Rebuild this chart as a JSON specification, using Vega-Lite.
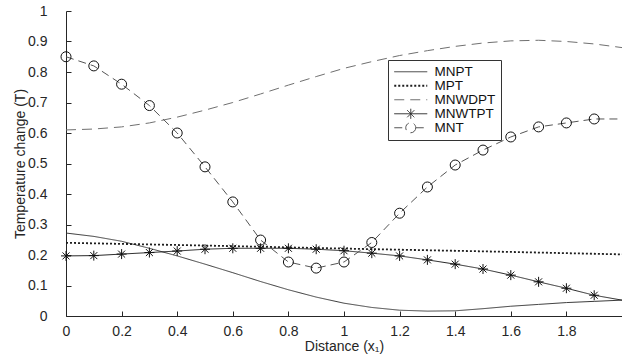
{
  "$schema": "https://vega.github.io/schema/vega-lite/v6.json",
  "width": 556,
  "height": 305,
  "autosize": "none",
  "padding": {"left": 66, "top": 11, "right": 0, "bottom": 44},
  "background": "white",
  "config": {
    "view": {"stroke": null},
    "font": "Liberation Sans",
    "axis": {
      "grid": false,
      "domainColor": "#262626",
      "tickColor": "#262626",
      "labelColor": "#262626",
      "titleColor": "#262626",
      "labelFontSize": 14,
      "titleFontSize": 14,
      "titleFontWeight": "normal",
      "labelFont": "Liberation Sans",
      "titleFont": "Liberation Sans",
      "tickSize": -5,
      "labelFlush": false,
      "labelOverlap": false
    }
  },
  "data": {
    "values": [
      {"x": 0.0, "series": "MNPT", "y": 0.272}, {"x": 0.1, "series": "MNPT", "y": 0.261}, {"x": 0.2, "series": "MNPT", "y": 0.245}, {"x": 0.3, "series": "MNPT", "y": 0.222}, {"x": 0.4, "series": "MNPT", "y": 0.197}, {"x": 0.5, "series": "MNPT", "y": 0.170}, {"x": 0.6, "series": "MNPT", "y": 0.142}, {"x": 0.7, "series": "MNPT", "y": 0.113}, {"x": 0.8, "series": "MNPT", "y": 0.086}, {"x": 0.9, "series": "MNPT", "y": 0.062}, {"x": 1.0, "series": "MNPT", "y": 0.042}, {"x": 1.1, "series": "MNPT", "y": 0.028}, {"x": 1.2, "series": "MNPT", "y": 0.019}, {"x": 1.3, "series": "MNPT", "y": 0.016}, {"x": 1.4, "series": "MNPT", "y": 0.017}, {"x": 1.5, "series": "MNPT", "y": 0.024}, {"x": 1.6, "series": "MNPT", "y": 0.032}, {"x": 1.7, "series": "MNPT", "y": 0.038}, {"x": 1.8, "series": "MNPT", "y": 0.044}, {"x": 1.9, "series": "MNPT", "y": 0.048}, {"x": 2.0, "series": "MNPT", "y": 0.052},
      {"x": 0.0, "series": "MPT", "y": 0.240}, {"x": 0.5, "series": "MPT", "y": 0.231}, {"x": 1.0, "series": "MPT", "y": 0.221}, {"x": 1.5, "series": "MPT", "y": 0.212}, {"x": 2.0, "series": "MPT", "y": 0.202},
      {"x": 0.0, "series": "MNWDPT", "y": 0.610}, {"x": 0.1, "series": "MNWDPT", "y": 0.613}, {"x": 0.2, "series": "MNWDPT", "y": 0.620}, {"x": 0.3, "series": "MNWDPT", "y": 0.633}, {"x": 0.4, "series": "MNWDPT", "y": 0.652}, {"x": 0.5, "series": "MNWDPT", "y": 0.675}, {"x": 0.6, "series": "MNWDPT", "y": 0.700}, {"x": 0.7, "series": "MNWDPT", "y": 0.728}, {"x": 0.8, "series": "MNWDPT", "y": 0.757}, {"x": 0.9, "series": "MNWDPT", "y": 0.785}, {"x": 1.0, "series": "MNWDPT", "y": 0.812}, {"x": 1.1, "series": "MNWDPT", "y": 0.834}, {"x": 1.2, "series": "MNWDPT", "y": 0.854}, {"x": 1.3, "series": "MNWDPT", "y": 0.870}, {"x": 1.4, "series": "MNWDPT", "y": 0.884}, {"x": 1.5, "series": "MNWDPT", "y": 0.895}, {"x": 1.6, "series": "MNWDPT", "y": 0.902}, {"x": 1.7, "series": "MNWDPT", "y": 0.904}, {"x": 1.8, "series": "MNWDPT", "y": 0.900}, {"x": 1.9, "series": "MNWDPT", "y": 0.892}, {"x": 2.0, "series": "MNWDPT", "y": 0.880},
      {"x": 0.0, "series": "MNWTPT", "y": 0.197}, {"x": 0.1, "series": "MNWTPT", "y": 0.198}, {"x": 0.2, "series": "MNWTPT", "y": 0.203}, {"x": 0.3, "series": "MNWTPT", "y": 0.208}, {"x": 0.4, "series": "MNWTPT", "y": 0.213}, {"x": 0.5, "series": "MNWTPT", "y": 0.219}, {"x": 0.6, "series": "MNWTPT", "y": 0.222}, {"x": 0.7, "series": "MNWTPT", "y": 0.222}, {"x": 0.8, "series": "MNWTPT", "y": 0.222}, {"x": 0.9, "series": "MNWTPT", "y": 0.219}, {"x": 1.0, "series": "MNWTPT", "y": 0.214}, {"x": 1.1, "series": "MNWTPT", "y": 0.206}, {"x": 1.2, "series": "MNWTPT", "y": 0.197}, {"x": 1.3, "series": "MNWTPT", "y": 0.184}, {"x": 1.4, "series": "MNWTPT", "y": 0.170}, {"x": 1.5, "series": "MNWTPT", "y": 0.154}, {"x": 1.6, "series": "MNWTPT", "y": 0.134}, {"x": 1.7, "series": "MNWTPT", "y": 0.112}, {"x": 1.8, "series": "MNWTPT", "y": 0.091}, {"x": 1.9, "series": "MNWTPT", "y": 0.068}, {"x": 2.0, "series": "MNWTPT", "y": 0.052},
      {"x": 0.0, "series": "MNT", "y": 0.850}, {"x": 0.1, "series": "MNT", "y": 0.820}, {"x": 0.2, "series": "MNT", "y": 0.760}, {"x": 0.3, "series": "MNT", "y": 0.690}, {"x": 0.4, "series": "MNT", "y": 0.600}, {"x": 0.5, "series": "MNT", "y": 0.489}, {"x": 0.6, "series": "MNT", "y": 0.374}, {"x": 0.7, "series": "MNT", "y": 0.249}, {"x": 0.8, "series": "MNT", "y": 0.177}, {"x": 0.9, "series": "MNT", "y": 0.157}, {"x": 1.0, "series": "MNT", "y": 0.177}, {"x": 1.1, "series": "MNT", "y": 0.241}, {"x": 1.2, "series": "MNT", "y": 0.337}, {"x": 1.3, "series": "MNT", "y": 0.423}, {"x": 1.4, "series": "MNT", "y": 0.495}, {"x": 1.5, "series": "MNT", "y": 0.544}, {"x": 1.6, "series": "MNT", "y": 0.587}, {"x": 1.7, "series": "MNT", "y": 0.620}, {"x": 1.8, "series": "MNT", "y": 0.633}, {"x": 1.9, "series": "MNT", "y": 0.646}, {"x": 2.0, "series": "MNT", "y": 0.646}
    ]
  },
  "encoding": {
    "x": {
      "field": "x", "type": "quantitative",
      "scale": {"domain": [0, 2], "nice": false, "zero": false},
      "axis": {"title": "Distance (x₁)", "values": [0, 0.2, 0.4, 0.6, 0.8, 1, 1.2, 1.4, 1.6, 1.8], "format": "~g", "labelPadding": 13, "titlePadding": 1, "labelOverlap": false}
    },
    "y": {
      "field": "y", "type": "quantitative",
      "scale": {"domain": [0, 1], "nice": false},
      "axis": {"title": "Temperature change (T)", "values": [0, 0.1, 0.2, 0.3, 0.4, 0.5, 0.6, 0.7, 0.8, 0.9, 1], "format": "~g", "labelPadding": 24, "titlePadding": 0, "labelOverlap": false}
    }
  },
  "layer": [
    {
      "mark": {"type": "line", "clip": true},
      "encoding": {
        "color": {
          "field": "series", "type": "nominal",
          "scale": {"domain": ["MNPT", "MPT", "MNWDPT", "MNWTPT", "MNT"], "range": ["#3a3a3a", "#1e1e1e", "#707070", "#262626", "#555555"]},
          "legend": {
            "title": null,
            "orient": "none",
            "legendX": 322,
            "legendY": 49,
            "strokeColor": "#333333",
            "fillColor": "white",
            "padding": 5,
            "labelFontSize": 13.5,
            "labelColor": "#111111",
            "labelFont": "Liberation Sans",
            "symbolSize": 121,
            "symbolStrokeWidth": 1,
            "labelOffset": 28,
            "rowPadding": -1,
            "encode": {
              "symbols": {
                "update": {
                  "shape": {"signal": "datum.value === 'MNWTPT' ? 'M-1,0H5M2,-0.91V0.91M1.36,-0.64L2.64,0.64M1.36,0.64L2.64,-0.64' : datum.value === 'MNT' ? 'M-1,0H1.09M2.91,0H5M2.91,0A0.91,0.91,0,1,1,1.09,0A0.91,0.91,0,1,1,2.91,0' : 'M-1,0H5'"},
                  "strokeDash": {"signal": "datum.value === 'MPT' ? [2,2] : datum.value === 'MNWDPT' ? [10,6] : [1,0]"},
                  "strokeWidth": {"signal": "datum.value === 'MPT' ? 1.6 : 1"},
                  "fill": {"value": "transparent"},
                  "opacity": {"value": 1}
                }
              }
            }
          }
        },
        "strokeDash": {
          "field": "series", "type": "nominal",
          "scale": {"type": "ordinal", "domain": ["MNPT", "MPT", "MNWDPT", "MNWTPT", "MNT"], "range": [[1, 0], [2, 2], [10, 6], [1, 0], [8, 5]]},
          "legend": null
        },
        "strokeWidth": {
          "field": "series", "type": "nominal",
          "scale": {"type": "ordinal", "domain": ["MNPT", "MPT", "MNWDPT", "MNWTPT", "MNT"], "range": [1, 1.8, 1, 1, 1]},
          "legend": null
        }
      }
    },
    {
      "transform": [{"filter": "(datum.series === 'MNT' || datum.series === 'MNWTPT') && datum.x < 1.95"}],
      "mark": {"type": "point", "filled": false, "size": 100, "strokeWidth": 1, "stroke": "#111111", "opacity": 1},
      "encoding": {
        "shape": {
          "field": "series", "type": "nominal",
          "scale": {"domain": ["MNWTPT", "MNT"], "range": ["M-1,0H1M0,-1V1M-0.7,-0.7L0.7,0.7M-0.7,0.7L0.7,-0.7", "circle"]},
          "legend": null
        }
      }
    }
  ]
}
